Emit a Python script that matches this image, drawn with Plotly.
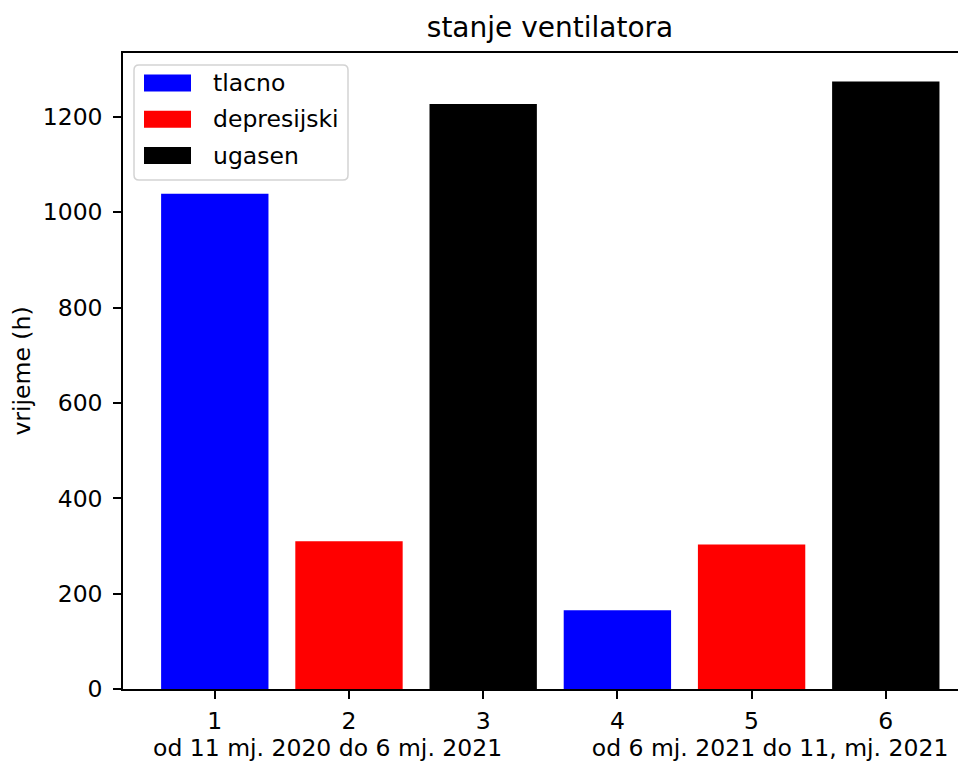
import plotly.graph_objects as go

# ---- data ----
series_names = ["tlacno", "depresijski", "ugasen"]
series_x = [[1, 4], [2, 5], [3, 6]]
series_values = [[1039, 165], [310, 303], [1227, 1274]]
series_colors = ["#0000ff", "#ff0000", "#000000"]
x_ticks = [1, 2, 3, 4, 5, 6]
x_ticklabels = ["1", "2", "3", "4", "5", "6"]
y_ticks = [0, 200, 400, 600, 800, 1000, 1200]
title_text = "stanje ventilatora"
ylabel_text = "vrijeme (h)"
xlabel_left = "od 11 mj. 2020 do 6 mj. 2021"
xlabel_right = "od 6 mj. 2021 do 11, mj. 2021"

# page body adds an 8px offset; figure is sized so it fits the 966x763 window
S = 8
W, H = 966 - S, 763 - S
ML, MR, MT, MB = 115, 0, 45, 74
PW, PH = W - ML - MR, H - MT - MB
FONT = "DejaVu Sans"
FS = 23.5


def px(x):  # screen px -> paper
    return (x - S - ML) / PW


def py(y):  # screen px -> paper
    return (H - MB - (y - S)) / PH


fig = go.Figure()
for name, xs, vals, col in zip(series_names, series_x, series_values, series_colors):
    fig.add_trace(go.Bar(x=xs, y=vals, name=name, marker=dict(color=col, line=dict(width=0)),
                         width=0.8, showlegend=False))

fig.update_layout(
    width=W, height=H,
    margin=dict(l=ML, r=MR, t=MT, b=MB, pad=0),
    paper_bgcolor="white", plot_bgcolor="white",
    barmode="overlay",
    font=dict(family=FONT, size=FS, color="black"),
    title=dict(text=title_text, x=(550 - S) / W, xanchor="center", xref="container",
               y=1 - (27 - S) / H, yanchor="middle", yref="container",
               font=dict(size=28, family=FONT, color="black")),
    xaxis=dict(range=[0.316, 0.316 + PW / 134.2], tickvals=x_ticks, ticktext=x_ticklabels,
               showline=True, linecolor="black", linewidth=1.5, mirror=True,
               ticks="outside", ticklen=8, tickwidth=1.5, tickcolor="black",
               showgrid=False, zeroline=False, automargin=False,
               ticklabelstandoff=2),
    yaxis=dict(range=[0, 1334], tickvals=y_ticks,
               showline=True, linecolor="black", linewidth=1.5, mirror=False,
               ticks="outside", ticklen=8, tickwidth=1.5, tickcolor="black",
               showgrid=False, zeroline=False, automargin=False,
               ticklabelstandoff=6,
               title=dict(text=ylabel_text, font=dict(size=FS), standoff=7)),
)

# x label (single matplotlib xlabel string, centred under the full axes)
fig.add_annotation(text=xlabel_left + "\u00a0" * 12 + xlabel_right, xref="paper", yref="paper",
                   x=px(550), y=py(748), xanchor="center", yanchor="middle", showarrow=False,
                   font=dict(size=FS, family=FONT, color="black"))

# ---- legend (matplotlib style) ----
x0, x1, y0, y1, r = 134, 348, 65, 180, 5
path = (f"M {px(x0 + r)} {py(y0)} L {px(x1 - r)} {py(y0)} Q {px(x1)} {py(y0)} {px(x1)} {py(y0 + r)} "
        f"L {px(x1)} {py(y1 - r)} Q {px(x1)} {py(y1)} {px(x1 - r)} {py(y1)} "
        f"L {px(x0 + r)} {py(y1)} Q {px(x0)} {py(y1)} {px(x0)} {py(y1 - r)} "
        f"L {px(x0)} {py(y0 + r)} Q {px(x0)} {py(y0)} {px(x0 + r)} {py(y0)} Z")
fig.add_shape(type="path", path=path, xref="paper", yref="paper",
              fillcolor="rgba(255,255,255,0.8)", line=dict(color="#d3d3d3", width=1.5), layer="above")
row_centers = [83, 119.3, 155.5]
for name, col, yc in zip(series_names, series_colors, row_centers):
    fig.add_shape(type="rect", xref="paper", yref="paper",
                  x0=px(144), x1=px(191), y0=py(yc - 8.5), y1=py(yc + 8.5),
                  fillcolor=col, line=dict(width=0), layer="above")
    fig.add_annotation(text=name, xref="paper", yref="paper", x=px(211), y=py(yc),
                       xanchor="left", yanchor="middle", showarrow=False,
                       font=dict(size=FS, family=FONT, color="black"))

fig.write_html("out.html")
